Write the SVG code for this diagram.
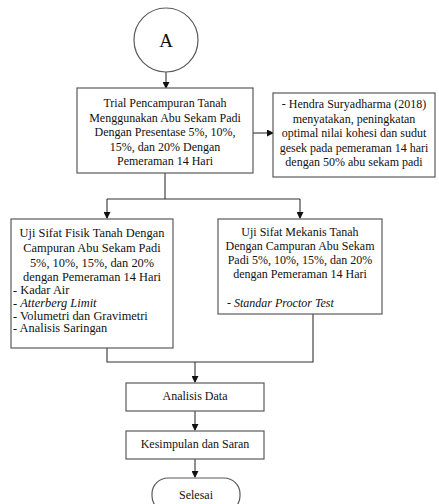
<svg xmlns="http://www.w3.org/2000/svg" width="439" height="504" viewBox="0 0 439 504">
<style>
.box{fill:#fff;stroke:#5a5a5a;stroke-width:1.2}
.ln{fill:none;stroke:#333;stroke-width:1.1}
.c{text-anchor:middle}
.i{font-style:italic}
</style>
<defs>
<marker id="ah" markerWidth="7" markerHeight="7" refX="6" refY="3.5" orient="auto" markerUnits="userSpaceOnUse">
<path d="M0,0 L7,3.5 L0,7 Z" fill="#111"/>
</marker>
</defs>
<rect width="439" height="504" fill="#fff"/>
<g id="connectors">
<line class="ln" x1="166" y1="72" x2="166" y2="88" marker-end="url(#ah)"/>
<line class="ln" x1="253" y1="133" x2="273" y2="133" marker-end="url(#ah)"/>
<polyline class="ln" points="165,173 165,199"/>
<polyline class="ln" points="107,199 300,199"/>
<line class="ln" x1="107" y1="199" x2="107" y2="218" marker-end="url(#ah)"/>
<line class="ln" x1="300" y1="199" x2="300" y2="218" marker-end="url(#ah)"/>
<polyline class="ln" points="107,348 107,362 313,362 313,314"/>
<line class="ln" x1="195" y1="362" x2="195" y2="382" marker-end="url(#ah)"/>
<line class="ln" x1="195" y1="411" x2="195" y2="430" marker-end="url(#ah)"/>
<line class="ln" x1="195" y1="459" x2="195" y2="477" marker-end="url(#ah)"/>
</g>
<g font-family="'Liberation Serif', 'Times New Roman', 'DejaVu Serif', serif" font-size="12" fill="#111">
<g id="startA">
<circle cx="166" cy="40" r="32" class="box"/>
<text x="166" y="46.5" class="c" font-size="19">A</text>
</g>
<g id="trial">
<rect x="77" y="88" width="176" height="85" class="box"/>
<text class="c" x="165" y="107">Trial Pencampuran Tanah</text>
<text class="c" x="165" y="121.5">Menggunakan Abu Sekam Padi</text>
<text class="c" x="165" y="136">Dengan Presentase 5%, 10%,</text>
<text class="c" x="165" y="150.5">15%, dan 20% Dengan</text>
<text class="c" x="165" y="165">Pemeraman 14 Hari</text>
</g>
<g id="hendra">
<rect x="273" y="93" width="162" height="84" class="box"/>
<text class="c" x="354" y="108">- Hendra Suryadharma (2018)</text>
<text class="c" x="354" y="122.5">menyatakan, peningkatan</text>
<text class="c" x="354" y="137">optimal nilai kohesi dan sudut</text>
<text class="c" x="354" y="151.5">gesek pada pemeraman 14 hari</text>
<text class="c" x="354" y="166">dengan 50% abu sekam padi</text>
</g>
<g id="fisik" font-size="12.4">
<rect x="11" y="219" width="162" height="129" class="box"/>
<text class="c" x="92" y="237">Uji Sifat Fisik Tanah Dengan</text>
<text class="c" x="92" y="252">Campuran Abu Sekam Padi</text>
<text class="c" x="92" y="267">5%, 10%, 15%, dan 20%</text>
<text class="c" x="92" y="281">dengan Pemeraman 14 Hari</text>
<text x="13" y="294">- Kadar Air</text>
<text x="13" y="307">- <tspan class="i">Atterberg Limit</tspan></text>
<text x="13" y="319.5">- Volumetri dan Gravimetri</text>
<text x="13" y="332">- Analisis Saringan</text>
</g>
<g id="mekanis">
<rect x="218" y="219" width="164" height="95" class="box"/>
<text class="c" x="300" y="236">Uji Sifat Mekanis Tanah</text>
<text class="c" x="300" y="249.5">Dengan Campuran Abu Sekam</text>
<text class="c" x="300" y="264">Padi 5%, 10%, 15%, dan 20%</text>
<text class="c" x="300" y="278">dengan Pemeraman 14 Hari</text>
<text x="227" y="307">- <tspan class="i">Standar Proctor Test</tspan></text>
</g>
<g id="analisis">
<rect x="126" y="383" width="138" height="28" class="box"/>
<text class="c" x="195" y="399.5">Analisis Data</text>
</g>
<g id="kesimpulan">
<rect x="126" y="431" width="138" height="28" class="box"/>
<text class="c" x="195" y="447.5">Kesimpulan dan Saran</text>
</g>
<g id="selesai">
<rect x="152" y="478" width="88" height="34" rx="16" class="box"/>
<text class="c" x="196" y="499">Selesai</text>
</g>
</g>
</svg>
